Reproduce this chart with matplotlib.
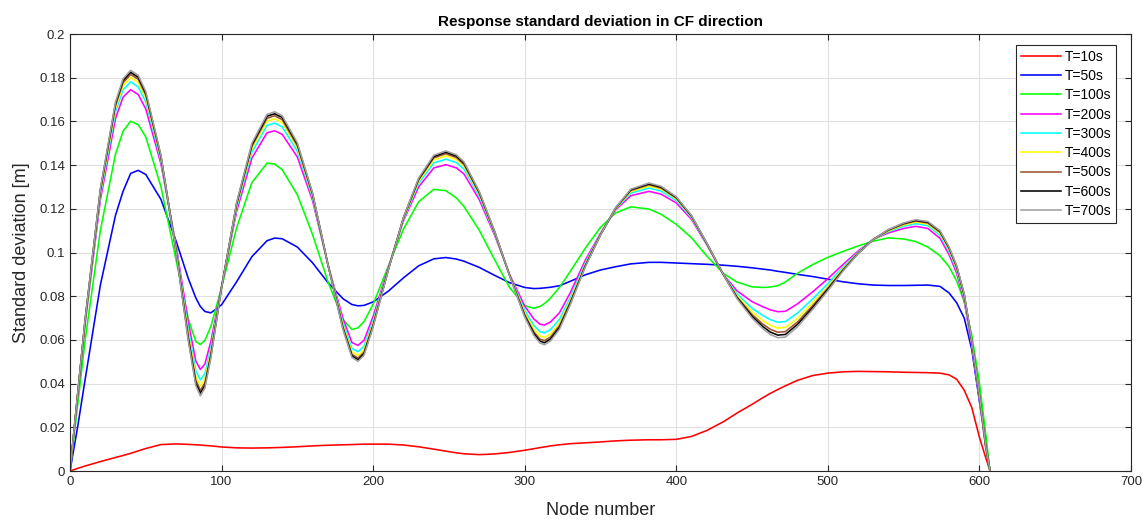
import matplotlib
matplotlib.use("Agg")
import matplotlib.pyplot as plt

plt.rcParams['font.family'] = ['Liberation Sans', 'DejaVu Sans']

# node positions shared by all series
node = [0, 5, 10, 20, 30, 35, 40, 45, 50, 60, 70, 78, 83, 86, 89, 93, 100, 110, 120, 130, 135, 140,
        150, 160, 170, 180, 186, 190, 194, 200, 210, 220, 230, 240, 248, 255, 260, 270, 280, 290,
        300, 306, 310, 313, 317, 323, 330, 340, 350, 360, 370, 382, 390, 400, 410, 420, 431, 440,
        450, 457, 462, 467, 472, 480, 490, 500, 510, 520, 530, 540, 550, 558, 566, 574, 580, 585,
        590, 595, 600, 604, 607]

t10 = [0, 0.0012, 0.0023, 0.0043, 0.0062, 0.0071, 0.0081, 0.0092, 0.0103, 0.0121, 0.0124, 0.0122,
       0.0120, 0.0119, 0.0117, 0.0115, 0.0110, 0.0106, 0.0105, 0.0106, 0.0107, 0.0108, 0.0111, 0.0115,
       0.0118, 0.0120, 0.0121, 0.0122, 0.0123, 0.0123, 0.0123, 0.0119, 0.0111, 0.0100, 0.0091, 0.0083,
       0.0079, 0.0075, 0.0078, 0.0085, 0.0095, 0.0102, 0.0107, 0.0110, 0.0115, 0.0120, 0.0125, 0.0129,
       0.0133, 0.0138, 0.0141, 0.0143, 0.0143, 0.0145, 0.0158, 0.0185, 0.0225, 0.0265, 0.0305, 0.0335,
       0.0355, 0.0373, 0.0390, 0.0415, 0.0437, 0.0448, 0.0454, 0.0456, 0.0455, 0.0454, 0.0452, 0.0451,
       0.0450, 0.0448, 0.0440, 0.0420, 0.0370, 0.0290, 0.0155, 0.0065, 0]

t50 = [0, 0.020, 0.042, 0.085, 0.117, 0.128, 0.1362, 0.1376, 0.1357, 0.1243, 0.1052, 0.0882,
       0.0792, 0.0753, 0.0730, 0.0724, 0.0761, 0.0867, 0.0981, 0.1054, 0.1066, 0.1063, 0.1025, 0.0953,
       0.0864, 0.0789, 0.0762, 0.0756, 0.0758, 0.0774, 0.0823, 0.0884, 0.0939, 0.0971, 0.0977, 0.0970,
       0.0960, 0.0932, 0.0896, 0.0862, 0.0840, 0.0835, 0.0836, 0.0838, 0.0841, 0.0848, 0.0868, 0.0898,
       0.0920, 0.0935, 0.0948, 0.0955, 0.0955, 0.0952, 0.0949, 0.0946, 0.0942, 0.0937, 0.0930, 0.0924,
       0.0920, 0.0914, 0.0909, 0.0900, 0.0890, 0.0878, 0.0866, 0.0857, 0.0851, 0.0849, 0.0849, 0.0850,
       0.0851, 0.0845, 0.0815, 0.0770, 0.0700, 0.0555, 0.0320, 0.0140, 0]

t100 = [0, 0.030, 0.060, 0.110, 0.145, 0.1555, 0.1601, 0.1585, 0.1529, 0.1301, 0.0965, 0.0696,
        0.0593, 0.0579, 0.0598, 0.0663, 0.0840, 0.1115, 0.1320, 0.1409, 0.1405, 0.1379, 0.1264, 0.1083,
        0.0870, 0.0694, 0.0648, 0.0655, 0.0684, 0.0763, 0.0937, 0.1107, 0.1232, 0.1289, 0.1283, 0.1249,
        0.1210, 0.1102, 0.0969, 0.0840, 0.0757, 0.0745, 0.0753, 0.0766, 0.0791, 0.0841, 0.0913, 0.1020,
        0.1115, 0.1181, 0.1209, 0.1199, 0.1175, 0.1129, 0.1068, 0.0985, 0.0905, 0.0865, 0.0843, 0.0840,
        0.0842, 0.0848, 0.0865, 0.0905, 0.0945, 0.0978, 0.1005, 0.1030, 0.1052, 0.1067, 0.1062, 0.1050,
        0.1025, 0.0985, 0.0935, 0.0870, 0.0775, 0.0620, 0.0405, 0.0180, 0]

t200 = [0, 0.0340, 0.0674, 0.1240, 0.1613, 0.1711, 0.1745, 0.1723, 0.1657, 0.1405, 0.1032, 0.0683,
        0.0503, 0.0465, 0.0490, 0.0595, 0.0845, 0.1190, 0.1432, 0.1548, 0.1557, 0.1541, 0.1437, 0.1238,
        0.0950, 0.0700, 0.0588, 0.0575, 0.0598, 0.0708, 0.0932, 0.1145, 0.1300, 0.1387, 0.1402, 0.1387,
        0.1359, 0.1242, 0.1082, 0.0900, 0.0755, 0.0696, 0.0672, 0.0668, 0.0682, 0.0725, 0.0815, 0.0965,
        0.1088, 0.1195, 0.1260, 0.1280, 0.1267, 0.1227, 0.1152, 0.1037, 0.0900, 0.0825, 0.0775, 0.0752,
        0.0738, 0.0729, 0.0731, 0.0765, 0.0820, 0.0880, 0.0945, 0.1007, 0.1060, 0.1090, 0.1110, 0.1120,
        0.1110, 0.1065, 0.0990, 0.0905, 0.0778, 0.0572, 0.0330, 0.0115, 0]

t300 = [0, 0.0344, 0.0683, 0.1260, 0.1643, 0.1745, 0.1781, 0.1758, 0.1689, 0.1421, 0.1020, 0.0649,
        0.0458, 0.0417, 0.0446, 0.0565, 0.0843, 0.1206, 0.1459, 0.1582, 0.1592, 0.1575, 0.1463, 0.1252,
        0.0950, 0.0680, 0.0561, 0.0546, 0.0571, 0.0689, 0.0927, 0.1151, 0.1316, 0.1410, 0.1427, 0.1411,
        0.1381, 0.1257, 0.1089, 0.0898, 0.0735, 0.0666, 0.0638, 0.0632, 0.0647, 0.0695, 0.0793, 0.0953,
        0.1085, 0.1199, 0.1272, 0.1295, 0.1281, 0.1238, 0.1159, 0.1040, 0.0900, 0.0811, 0.0745, 0.0712,
        0.0693, 0.0681, 0.0684, 0.0723, 0.0788, 0.0858, 0.0933, 0.1002, 0.1060, 0.1096, 0.1120, 0.1132,
        0.1123, 0.1079, 0.1004, 0.0919, 0.0791, 0.0583, 0.0338, 0.0119, 0]

t400 = [0, 0.0346, 0.0688, 0.1272, 0.1660, 0.1764, 0.1801, 0.1778, 0.1707, 0.1430, 0.1013, 0.0629,
        0.0432, 0.0389, 0.0421, 0.0548, 0.0842, 0.1215, 0.1475, 0.1601, 0.1612, 0.1595, 0.1478, 0.1260,
        0.0950, 0.0669, 0.0545, 0.0529, 0.0555, 0.0678, 0.0924, 0.1154, 0.1325, 0.1424, 0.1442, 0.1425,
        0.1394, 0.1266, 0.1093, 0.0897, 0.0724, 0.0649, 0.0618, 0.0611, 0.0627, 0.0678, 0.0780, 0.0946,
        0.1083, 0.1201, 0.1279, 0.1304, 0.1290, 0.1245, 0.1163, 0.1042, 0.0900, 0.0803, 0.0728, 0.0689,
        0.0667, 0.0654, 0.0657, 0.0699, 0.0770, 0.0845, 0.0926, 0.0999, 0.1060, 0.1099, 0.1126, 0.1139,
        0.1130, 0.1087, 0.1012, 0.0927, 0.0798, 0.0590, 0.0343, 0.0121, 0]

t500 = [0, 0.0348, 0.0691, 0.1280, 0.1672, 0.1777, 0.1815, 0.1793, 0.1720, 0.1437, 0.1008, 0.0616,
        0.0415, 0.0369, 0.0403, 0.0536, 0.0841, 0.1222, 0.1486, 0.1614, 0.1626, 0.1608, 0.1488, 0.1266,
        0.0950, 0.0661, 0.0534, 0.0517, 0.0544, 0.0670, 0.0923, 0.1157, 0.1332, 0.1433, 0.1452, 0.1434,
        0.1402, 0.1272, 0.1096, 0.0896, 0.0716, 0.0637, 0.0604, 0.0597, 0.0613, 0.0666, 0.0772, 0.0941,
        0.1082, 0.1203, 0.1284, 0.1310, 0.1295, 0.1249, 0.1166, 0.1043, 0.0900, 0.0797, 0.0716, 0.0673,
        0.0649, 0.0635, 0.0638, 0.0682, 0.0757, 0.0837, 0.0921, 0.0998, 0.1060, 0.1102, 0.1130, 0.1144,
        0.1135, 0.1093, 0.1018, 0.0933, 0.0803, 0.0594, 0.0346, 0.0123, 0]

t600 = [0, 0.0349, 0.0694, 0.1285, 0.1681, 0.1787, 0.1825, 0.1802, 0.1729, 0.1441, 0.1005, 0.0607,
        0.0402, 0.0356, 0.0391, 0.0528, 0.0841, 0.1226, 0.1493, 0.1624, 0.1635, 0.1618, 0.1496, 0.1270,
        0.0950, 0.0655, 0.0527, 0.0509, 0.0537, 0.0665, 0.0921, 0.1159, 0.1336, 0.1439, 0.1459, 0.1441,
        0.1409, 0.1276, 0.1098, 0.0896, 0.0710, 0.0629, 0.0595, 0.0587, 0.0604, 0.0658, 0.0766, 0.0938,
        0.1081, 0.1204, 0.1287, 0.1314, 0.1299, 0.1252, 0.1168, 0.1044, 0.0900, 0.0794, 0.0708, 0.0662,
        0.0636, 0.0622, 0.0625, 0.0671, 0.0748, 0.0831, 0.0918, 0.0996, 0.1060, 0.1104, 0.1133, 0.1147,
        0.1139, 0.1097, 0.1022, 0.0937, 0.0807, 0.0597, 0.0348, 0.0124, 0]

t700 = [0, 0.0350, 0.0696, 0.1290, 0.1688, 0.1795, 0.1834, 0.1811, 0.1737, 0.1445, 0.1002, 0.0598,
        0.0391, 0.0344, 0.0380, 0.0520, 0.0840, 0.1230, 0.1500, 0.1632, 0.1644, 0.1626, 0.1502, 0.1273,
        0.0950, 0.0650, 0.0520, 0.0502, 0.0530, 0.0660, 0.0920, 0.1160, 0.1340, 0.1445, 0.1465, 0.1447,
        0.1414, 0.1280, 0.1100, 0.0895, 0.0705, 0.0621, 0.0586, 0.0578, 0.0595, 0.0650, 0.0760, 0.0935,
        0.1080, 0.1205, 0.1290, 0.1318, 0.1303, 0.1255, 0.1170, 0.1045, 0.0900, 0.0790, 0.0700, 0.0652,
        0.0625, 0.0610, 0.0613, 0.0660, 0.0740, 0.0825, 0.0915, 0.0995, 0.1060, 0.1105, 0.1135, 0.1150,
        0.1142, 0.1100, 0.1025, 0.0940, 0.0810, 0.0600, 0.0350, 0.0125, 0]

labels = ['T=10s', 'T=50s', 'T=100s', 'T=200s', 'T=300s', 'T=400s', 'T=500s', 'T=600s', 'T=700s']
series = [t10, t50, t100, t200, t300, t400, t500, t600, t700]
colors = ['#ff0000', '#0000ff', '#00ff00', '#ff00ff', '#00ffff', '#ffff00',
          '#a0522d', '#000000', '#a0a0a0']

yticks = [0, 0.02, 0.04, 0.06, 0.08, 0.1, 0.12, 0.14, 0.16, 0.18, 0.2]
ytick_labels = ['0', '0.02', '0.04', '0.06', '0.08', '0.1', '0.12', '0.14', '0.16', '0.18', '0.2']
xticks = [0, 100, 200, 300, 400, 500, 600, 700]

fig = plt.figure(figsize=(11.44, 5.2), dpi=100)
ax = fig.add_axes([0.0612, 0.0942, 0.9274, 0.8404])

for vals, lab, col in zip(series, labels, colors):
    ax.plot(node, vals, color=col, linewidth=1.15, label=lab)

ax.set_xlim(0, 700)
ax.set_ylim(0, 0.2)
ax.set_xticks(xticks)
ax.set_yticks(yticks)
ax.set_yticklabels(ytick_labels)
ax.grid(True, color='#e0e0e0', linewidth=0.8)
ax.set_axisbelow(True)
ax.tick_params(direction='in', length=4, width=0.8, colors='#262626', labelsize=9.5,
               top=True, right=True)
for sp in ax.spines.values():
    sp.set_color('#262626')
    sp.set_linewidth(0.8)

ax.set_title('Response standard deviation in CF direction', fontsize=11, fontweight='bold', pad=6)
ax.set_xlabel('Node number', fontsize=13, color='#262626', labelpad=10)
ax.set_ylabel('Standard deviation [m]', fontsize=13, color='#262626', labelpad=7)

leg = ax.legend(loc='upper right', bbox_to_anchor=(0.986, 0.975), fontsize=10,
                handlelength=2.9, handletextpad=0.25, labelspacing=0.38, borderpad=0.35,
                fancybox=False, framealpha=1, borderaxespad=0)
leg.get_frame().set_edgecolor('#262626')
leg.get_frame().set_linewidth(0.8)

fig.savefig('out.png', dpi=100)
